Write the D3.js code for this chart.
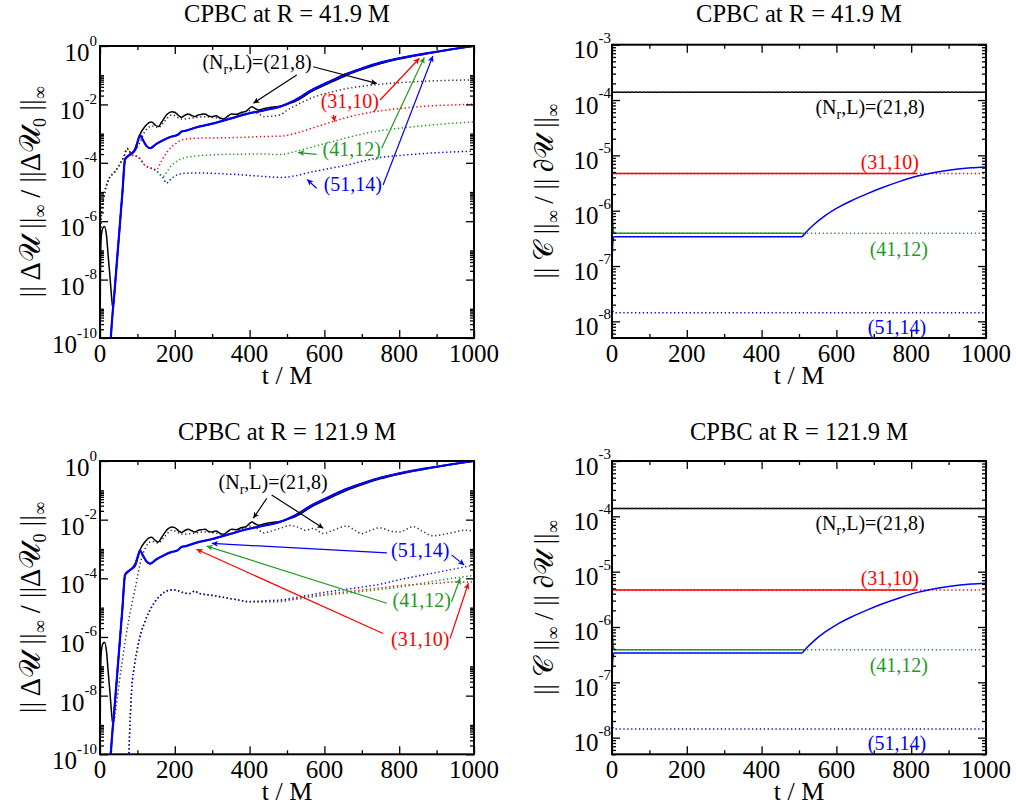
<!DOCTYPE html>
<html><head><meta charset="utf-8">
<script src="https://cdn.jsdelivr.net/npm/d3@7"></script>
<style>body{margin:0;background:#fff}text{font-family:"Liberation Serif","Times New Roman",serif}</style>
</head><body><svg id="c" width="1016" height="806"></svg>
<script>
// ---------- DATA (t in M, values given as log10 of the plotted quantity) ----------
const xMajor=[0,200,400,600,800,1000];
const xMinor=[100,300,500,700,900];
const errMajorExp=[0,-2,-4,-6,-8,-10];
const conMajorExp=[-3,-4,-5,-6,-7,-8];
const titles=["CPBC at R = 41.9 M","CPBC at R = 121.9 M"];
const labels=["(21,8)","(31,10)","(41,12)","(51,14)"];

// error panels: solid = full solution, shared by both radii
const errSolidBlue=[[25,-11],[29,-10],[40,-8.23],[50,-6.62],[60,-5.01],[67,-3.88],[80,-3.72],[94,-3.56],[100,-3.32],[107,-3.05],[114,-3.2],[124,-3.42],[134,-3.5],[150,-3.36],[170,-3.22],[192,-3.1],[205,-3.06],[212,-3.0],[218,-2.93],[230,-2.9],[254,-2.8],[300,-2.66],[350,-2.48],[388,-2.34],[440,-2.2],[481,-2.08],[521,-1.86],[570,-1.48],[620,-1.18],[660,-0.95],[700,-0.77],[749,-0.57],[800,-0.42],[882,-0.23],[940,-0.11],[1000,0]];
const errSolidBlack=[[0,-11],[1,-8.2],[3,-6.6],[7,-6.25],[12,-6.18],[17,-6.45],[22,-7.2],[27,-7.95],[31,-8.6],[34,-8.95],[37,-8.75],[40,-8.23],[50,-6.62],[60,-5.01],[67,-3.88],[80,-3.72],[94,-3.5],[102,-3.2],[110,-2.95],[120,-2.76],[130,-2.63],[138,-2.6],[147,-2.7],[156,-2.76],[165,-2.6],[180,-2.33],[192,-2.25],[200,-2.27],[210,-2.38],[218,-2.44],[227,-2.37],[236,-2.33],[245,-2.38],[254,-2.42],[263,-2.36],[272,-2.34],[281,-2.33],[290,-2.4],[300,-2.42],[310,-2.39],[320,-2.46],[330,-2.5],[340,-2.42],[352,-2.33],[365,-2.34],[379,-2.27],[390,-2.24],[398,-2.15],[406,-2.08],[415,-2.14],[423,-2.19],[440,-2.14],[468,-2.08],[490,-2.04],[503,-1.98],[521,-1.9],[570,-1.53],[620,-1.23],[660,-1.0],[700,-0.81],[749,-0.61],[800,-0.45],[882,-0.25],[940,-0.12],[1000,0]];

// R = 41.9 M dotted
const r1DotBlack=[[0,-7.3],[3,-5.9],[10,-5.2],[22,-4.6],[40,-4.3],[55,-4.0],[65,-3.75],[72,-3.5],[85,-3.68],[95,-3.55],[107,-3.3],[117,-3.0],[127,-2.82],[140,-2.74],[156,-2.8],[170,-2.62],[192,-2.36],[220,-2.5],[250,-2.46],[280,-2.42],[310,-2.46],[340,-2.52],[370,-2.37],[400,-2.22],[420,-2.3],[440,-2.42],[481,-2.36],[500,-2.2],[526,-2.02],[570,-1.76],[620,-1.57],[660,-1.46],[749,-1.31],[882,-1.2],[1000,-1.16]];
const r1DotRed=[[0,-7.3],[3,-5.9],[10,-5.2],[22,-4.6],[40,-4.3],[55,-4.0],[65,-3.75],[72,-3.52],[85,-3.73],[102,-3.8],[120,-4.08],[135,-4.18],[150,-4.25],[165,-3.92],[180,-3.62],[192,-3.45],[205,-3.32],[218,-3.22],[236,-3.18],[254,-3.16],[300,-3.15],[343,-3.14],[400,-3.12],[432,-3.1],[481,-3.09],[520,-3.0],[570,-2.8],[620,-2.6],[660,-2.45],[700,-2.33],[749,-2.22],[820,-2.12],[882,-2.05],[940,-2.02],[1000,-1.99]];
const r1DotGreen=[[0,-7.3],[3,-5.9],[10,-5.2],[22,-4.6],[40,-4.3],[55,-4.0],[65,-3.75],[72,-3.52],[85,-3.73],[102,-3.8],[120,-4.08],[135,-4.18],[150,-4.26],[160,-4.38],[169,-4.47],[180,-4.28],[192,-4.08],[205,-3.95],[218,-3.86],[254,-3.77],[300,-3.73],[343,-3.71],[432,-3.7],[481,-3.72],[521,-3.62],[570,-3.45],[620,-3.28],[660,-3.14],[700,-3.02],[749,-2.9],[820,-2.79],[882,-2.71],[940,-2.65],[1000,-2.6]];
const r1DotBlue=[[0,-7.3],[3,-5.9],[10,-5.2],[22,-4.6],[40,-4.3],[55,-4.0],[65,-3.75],[72,-3.52],[85,-3.73],[102,-3.8],[120,-4.08],[135,-4.18],[150,-4.26],[160,-4.4],[169,-4.52],[178,-4.7],[190,-4.55],[200,-4.45],[215,-4.38],[227,-4.36],[260,-4.35],[299,-4.36],[350,-4.39],[388,-4.42],[440,-4.47],[486,-4.5],[520,-4.45],[570,-4.3],[620,-4.18],[660,-4.08],[700,-3.95],[749,-3.82],[820,-3.73],[882,-3.67],[940,-3.63],[1000,-3.6]];

// R = 121.9 M dotted
const r2DotBlack=[[20,-11],[30,-9.6],[40,-8.66],[58,-6.95],[76,-5.48],[94,-4.34],[111,-3.32],[122,-2.95],[129,-2.81],[140,-2.74],[156,-2.8],[170,-2.62],[192,-2.36],[220,-2.5],[250,-2.46],[280,-2.42],[310,-2.46],[340,-2.52],[370,-2.37],[400,-2.22],[420,-2.3],[437,-2.45],[460,-2.38],[481,-2.3],[508,-2.2],[530,-2.26],[550,-2.36],[570,-2.3],[597,-2.47],[625,-2.35],[660,-2.22],[680,-2.35],[700,-2.48],[720,-2.38],[749,-2.28],[775,-2.38],[800,-2.42],[838,-2.24],[860,-2.38],[891,-2.55],[920,-2.5],[950,-2.42],[975,-2.36],[1000,-2.4]];
const r2DotRed=[[76,-10.5],[80,-9],[85,-7.75],[93,-6.9],[102,-6.27],[110,-5.85],[120,-5.48],[133,-5.1],[147,-4.8],[160,-4.6],[174,-4.46],[187,-4.4],[200,-4.4],[215,-4.45],[227,-4.51],[240,-4.52],[254,-4.43],[262,-4.5],[280,-4.55],[310,-4.6],[343,-4.68],[370,-4.74],[397,-4.8],[420,-4.8],[450,-4.78],[481,-4.77],[521,-4.7],[600,-4.55],[700,-4.4],[749,-4.33],[800,-4.25],[900,-4.17],[950,-4.12],[1000,-4.13]];
const r2DotGreen=[[76,-10.5],[80,-9],[85,-7.75],[93,-6.9],[102,-6.27],[110,-5.85],[120,-5.48],[133,-5.1],[147,-4.8],[160,-4.6],[174,-4.46],[187,-4.4],[200,-4.4],[215,-4.45],[227,-4.51],[240,-4.52],[254,-4.43],[262,-4.5],[280,-4.55],[310,-4.6],[343,-4.68],[370,-4.74],[397,-4.8],[420,-4.81],[450,-4.81],[481,-4.8],[521,-4.72],[600,-4.58],[700,-4.45],[749,-4.38],[800,-4.3],[900,-4.08],[1000,-3.9]];
const r2DotBlue=[[76,-10.5],[80,-9],[85,-7.75],[93,-6.9],[102,-6.27],[110,-5.85],[120,-5.48],[133,-5.1],[147,-4.8],[160,-4.6],[174,-4.46],[187,-4.4],[200,-4.4],[215,-4.45],[227,-4.51],[240,-4.52],[254,-4.43],[262,-4.5],[280,-4.55],[310,-4.6],[343,-4.68],[370,-4.74],[397,-4.79],[420,-4.78],[450,-4.76],[481,-4.74],[521,-4.66],[600,-4.48],[700,-4.3],[749,-4.2],[800,-4.05],[900,-3.8],[1000,-3.55]];

// constraint panels (same for both radii)
const conBlack=[[0,-3.86],[1000,-3.86]];
const conRedSolid=[[0,-5.33],[815,-5.33]];
const conRedDot=[[0,-5.33],[1000,-5.33]];
const conGreenSolid=[[0,-5.95],[3,-6.3],[6,-6.41],[507,-6.41],[515,-6.42]];
const conGreenDot=[[0,-5.95],[3,-6.3],[6,-6.41],[1000,-6.41]];
const conBlueSolid=[[0,-7.0],[2,-6.6],[5,-6.47],[507,-6.47],[520,-6.38],[540,-6.25],[570,-6.09],[600,-5.96],[640,-5.82],[680,-5.7],[720,-5.59],[770,-5.47],[820,-5.37],[870,-5.3],[920,-5.25],[960,-5.225],[1000,-5.21]];
const conBlueDot=[[0,-7.6],[2,-7.8],[5,-7.846],[1000,-7.846]];

// ---------- STYLE ----------
const COL={k:"#000000",r:"#ff0000",g:"#1f9a1f",b:"#0000ff",gray:"#333333"};
const FS=25;
const svg=d3.select("#c");
const defs=svg.append("defs");
Object.entries(COL).forEach(([k,c])=>{
  defs.append("marker").attr("id","ah"+k).attr("viewBox","0 0 10 10").attr("refX",10).attr("refY",5)
    .attr("markerWidth",7).attr("markerHeight",6).attr("markerUnits","userSpaceOnUse").attr("orient","auto")
    .append("path").attr("d","M0,0L10,5L0,10L2.5,5z").attr("fill",c);
});

const panels=[
  {key:"tl",x:[100,474],y:[46,338],dom:[1e-10,1],kind:"err",title:titles[0],tb:22,
   series:[[r1DotBlue,"b",1],[r1DotGreen,"g",1],[r1DotRed,"r",1],[r1DotBlack,"gray",1],[errSolidBlack,"k",0],[errSolidBlue,"r",0],[errSolidBlue,"g",0],[errSolidBlue,"b",0]]},
  {key:"tr",x:[612,986],y:[44.7,338],dom:[5e-9,1e-3],kind:"con",title:titles[0],tb:22},
  {key:"bl",x:[100,474],y:[461,754.3],dom:[1e-10,1],kind:"err",title:titles[1],tb:439.5,
   series:[[r2DotRed,"r",1],[r2DotGreen,"g",1],[r2DotBlue,"b",1],[r2DotBlack,"gray",1],[errSolidBlack,"k",0],[errSolidBlue,"r",0],[errSolidBlue,"g",0],[errSolidBlue,"b",0]]},
  {key:"br",x:[612,986],y:[461,754.3],dom:[5e-9,1e-3],kind:"con",title:titles[1],tb:439.5}
];
const conSeries=[[conBlack,"k",0],[conBlack,"gray",1],[conRedSolid,"r",0],[conRedDot,"r",1],[conGreenDot,"g",1],[conGreenSolid,"g",0],[conBlueDot,"b",1],[conBlueSolid,"b",0]];

// annotations in data coords [t, log10]
const annErr={
  tl:[
    {txt:"N",col:"k",at:[420,-0.79],arrows:[[[570,-0.71],[740,-1.28]],[[526,-0.99],[410,-1.96]]]},
    {txt:labels[1],col:"r",at:[668,-2.12],arrows:[[[749,-1.85],[854,-0.42]],[[624,-2.36],[628,-2.59]]]},
    {txt:labels[2],col:"g",at:[673,-3.77],arrows:[[[753,-3.5],[867,-0.39]],[[579,-3.71],[530,-3.65]]]},
    {txt:labels[3],col:"b",at:[676,-4.97],arrows:[[[757,-4.76],[890,-0.34]],[[579,-4.87],[554,-4.57]]]}
  ],
  bl:[
    {txt:"N",col:"k",at:[463,-0.955],arrows:[[[446,-1.27],[410,-1.95]],[[459,-1.16],[597,-2.29]]]},
    {txt:labels[3],col:"b",at:[856,-3.27],arrows:[[[767,-3.13],[299,-2.81]],[[940,-3.2],[974,-3.55]]]},
    {txt:labels[2],col:"g",at:[860,-4.98],arrows:[[[767,-4.85],[285,-2.9]],[[940,-4.8],[963,-4.0]]]},
    {txt:labels[1],col:"r",at:[856,-6.31],arrows:[[[757,-5.88],[258,-3.01]],[[936,-6.05],[985,-4.17]]]}
  ]
};
const annCon=[{txt:"N",col:"k",at:[690,-4.25]},{txt:labels[1],col:"r",at:[743,-5.25]},{txt:labels[2],col:"g",at:[767,-6.81]},{txt:labels[3],col:"b",at:[762,-8.22]}];

function labelText(g,x,y,item){
  const t=g.append("text").attr("x",x).attr("y",y).attr("text-anchor","middle").attr("font-size",20).attr("fill",COL[item.col]);
  if(item.txt==="N"){
    t.append("tspan").text("(N");
    t.append("tspan").attr("dy",5).attr("font-size",14).text("r");
    t.append("tspan").attr("dy",-5).text(",L)="+labels[0]);
  } else t.text(item.txt);
}

panels.forEach(p=>{
  const x=d3.scaleLinear().domain([0,1000]).range(p.x);
  const y=d3.scaleLog().domain(p.dom).range([p.y[1],p.y[0]]);
  const yv=e=>y(Math.pow(10,e));
  const g=svg.append("g");
  defs.append("clipPath").attr("id","cl"+p.key).append("rect")
    .attr("x",p.x[0]).attr("y",p.y[0]).attr("width",p.x[1]-p.x[0]).attr("height",p.y[1]-p.y[0]);
  const line=d3.line().x(d=>x(d[0])).y(d=>yv(d[1])).curve(d3.curveMonotoneX);
  const series=p.kind==="err"?p.series:conSeries;
  const lg=g.append("g").attr("clip-path","url(#cl"+p.key+")");
  series.forEach(([data,c,dot])=>{
    lg.append("path").attr("d",line(data)).attr("fill","none").attr("stroke",COL[c])
      .attr("stroke-width",dot?1.5:(p.kind==="err"&&c==="b"?2.2:1.5))
      .attr("stroke-dasharray",dot?"1.3,2.6":null);
  });
  // axes (ticks inward, mirrored)
  const ax=[
    [d3.axisBottom(x).tickValues(xMajor).tickSize(-8),p.y[1],"x"],
    [d3.axisBottom(x).tickValues(xMinor).tickSize(-4),p.y[1],"x"],
    [d3.axisTop(x).tickValues(xMajor).tickSize(-8),p.y[0],"x"],
    [d3.axisTop(x).tickValues(xMinor).tickSize(-4),p.y[0],"x"]
  ];
  const majE=p.kind==="err"?errMajorExp:conMajorExp;
  const majV=majE.map(e=>Math.pow(10,e));
  let minV=[];
  if(p.kind==="err"){
    [-10,-8,-6,-4,-2].forEach(o=>{for(let k=2;k<=10;k++) minV.push(k*Math.pow(10,o));});
  } else {
    for(let e=-9;e<=-4;e++) for(let k=2;k<=9;k++){const v=k*Math.pow(10,e); if(v>=p.dom[0]&&v<=p.dom[1]) minV.push(v);}
  }
  ax.push([d3.axisLeft(y).tickValues(majV).tickSize(-8),p.x[0],"y"]);
  ax.push([d3.axisLeft(y).tickValues(minV).tickSize(-4),p.x[0],"y"]);
  ax.push([d3.axisRight(y).tickValues(majV).tickSize(-8),p.x[1],"y"]);
  ax.push([d3.axisRight(y).tickValues(minV).tickSize(-4),p.x[1],"y"]);
  ax.forEach(([a,pos,d])=>{
    const ag=g.append("g").attr("transform",d==="x"?`translate(0,${pos})`:`translate(${pos},0)`).call(a.tickFormat(""));
    ag.select(".domain").remove();
    ag.selectAll("line").attr("stroke","#000").attr("stroke-width",1.3);
    ag.selectAll("text").remove();
  });
  // x tick labels
  xMajor.forEach(v=>{
    g.append("text").attr("x",x(v)).attr("y",p.y[1]+24).attr("text-anchor","middle").attr("font-size",FS).text(v);
  });
  // y tick labels
  const xr=p.kind==="err"?p.x[0]-3:p.x[0]-1;
  majE.forEach(e=>{
    const t=g.append("text").attr("x",xr).attr("y",yv(e)+(p.kind==="err"?15:13.5)).attr("text-anchor","end").attr("font-size",FS);
    t.append("tspan").text("10");
    t.append("tspan").attr("dy",-15.5).attr("font-size",15).text(e===0?"0":"-"+(-e));
  });
  // frame
  g.append("rect").attr("x",p.x[0]).attr("y",p.y[0]).attr("width",p.x[1]-p.x[0]).attr("height",p.y[1]-p.y[0])
    .attr("fill","none").attr("stroke","#000").attr("stroke-width",2);
  const cx=(p.x[0]+p.x[1])/2;
  // title & x label
  g.append("text").attr("x",cx).attr("y",p.tb).attr("text-anchor","middle").attr("font-size",24.5).text(p.title);
  g.append("text").attr("x",cx).attr("y",p.y[1]+46).attr("text-anchor","middle").attr("font-size",26).text("t / M");
  // y label
  const cy=(p.y[0]+p.y[1])/2;
  const yl=g.append("text").attr("transform",`translate(${p.kind==="err"?40:553},${cy}) rotate(-90)`).attr("text-anchor","middle").attr("font-size",p.kind==="err"?28.5:27);
  const sub=(s)=>{yl.append("tspan").attr("dy",6).attr("font-size",18).text(s);};
  const nor=(s)=>{yl.append("tspan").attr("dy",-6).text(s);};
  if(p.kind==="err"){
    yl.append("tspan").text("|| Δ𝒰 ||"); sub("∞"); nor(" / ||Δ𝒰"); sub("0"); nor(" ||"); sub("∞");
  } else {
    yl.append("tspan").text("|| 𝒞 ||"); sub("∞"); nor(" / || ∂𝒰 ||"); sub("∞");
  }
  // annotations
  if(p.kind==="err"){
    annErr[p.key].forEach(a=>{
      a.arrows.forEach(([s,e])=>{
        g.append("line").attr("x1",x(s[0])).attr("y1",yv(s[1])).attr("x2",x(e[0])).attr("y2",yv(e[1]))
          .attr("stroke",COL[a.col]).attr("stroke-width",1.2).attr("marker-end","url(#ah"+a.col+")");
      });
      labelText(g,x(a.at[0]),yv(a.at[1]),a);
    });
  } else {
    annCon.forEach(a=>labelText(g,x(a.at[0]),yv(a.at[1]),a));
  }
});
</script></body></html>
